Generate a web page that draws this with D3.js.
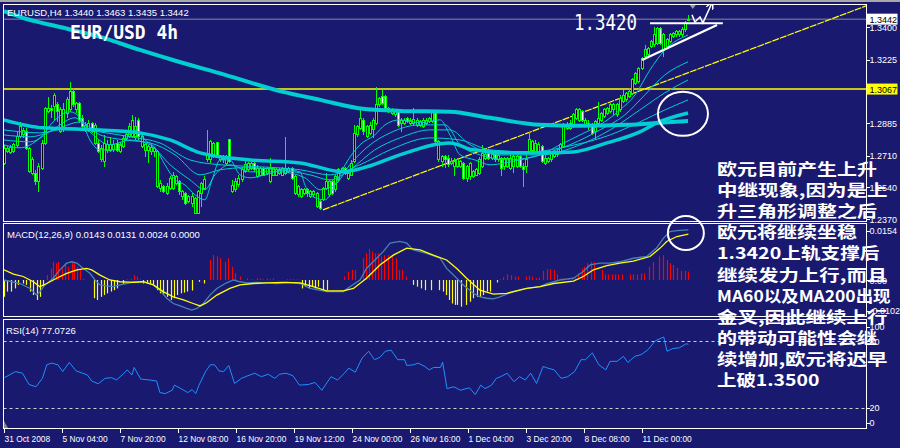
<!DOCTYPE html>
<html><head><meta charset="utf-8">
<script src="https://cdn.jsdelivr.net/npm/d3@7"></script>
<style>html,body{margin:0;padding:0;background:#191970;overflow:hidden}svg{display:block}</style>
</head><body>
<svg id="c" width="900" height="448"></svg>
<script>
// ---------- DATA ----------
// H4 candles [open, high, low, close]
const candleRows = [
[1.2669,1.2767,1.2660,1.2749],[1.2732,1.2762,1.2723,1.2749],[1.2726,1.2767,1.2719,1.2755],[1.2732,1.2780,1.2723,1.2767],
[1.2762,1.2839,1.2755,1.2812],[1.2812,1.2892,1.2803,1.2866],[1.2821,1.2857,1.2803,1.2844],[1.2839,1.2857,1.2740,1.2749],
[1.2624,1.2758,1.2615,1.2749],[1.2615,1.2705,1.2606,1.2687],[1.2615,1.2633,1.2553,1.2571],[1.2571,1.2669,1.2517,1.2651],
[1.2642,1.2794,1.2633,1.2776],[1.2776,1.2973,1.2767,1.2964],[1.2946,1.3026,1.2937,1.2964],[1.2964,1.2982,1.2910,1.2951],
[1.2973,1.3044,1.2901,1.3035],[1.2982,1.3000,1.2892,1.2946],[1.2839,1.2973,1.2830,1.2955],[1.2848,1.2991,1.2839,1.2955],
[1.2937,1.3026,1.2910,1.3009],[1.2955,1.3107,1.2946,1.3053],[1.3053,1.3071,1.2973,1.2982],[1.2955,1.3000,1.2937,1.2991],
[1.2991,1.3000,1.2883,1.2901],[1.2910,1.2928,1.2848,1.2866],[1.2848,1.2892,1.2839,1.2874],[1.2848,1.2901,1.2839,1.2883],
[1.2883,1.2892,1.2830,1.2839],[1.2776,1.2883,1.2767,1.2874],[1.2776,1.2794,1.2723,1.2732],[1.2687,1.2767,1.2678,1.2749],
[1.2678,1.2821,1.2651,1.2776],[1.2740,1.2794,1.2723,1.2767],[1.2740,1.2812,1.2732,1.2767],[1.2744,1.2794,1.2732,1.2767],
[1.2776,1.2794,1.2732,1.2740],[1.2732,1.2785,1.2723,1.2767],[1.2758,1.2821,1.2749,1.2803],[1.2803,1.2830,1.2794,1.2821],
[1.2812,1.2883,1.2803,1.2866],[1.2812,1.2928,1.2803,1.2901],[1.2812,1.2919,1.2794,1.2866],[1.2901,1.2910,1.2794,1.2812],
[1.2758,1.2821,1.2749,1.2812],[1.2740,1.2776,1.2705,1.2767],[1.2740,1.2767,1.2669,1.2758],[1.2732,1.2767,1.2714,1.2755],
[1.2732,1.2758,1.2705,1.2749],[1.2544,1.2740,1.2535,1.2732],[1.2535,1.2580,1.2517,1.2562],[1.2544,1.2553,1.2508,1.2517],
[1.2508,1.2562,1.2499,1.2544],[1.2535,1.2598,1.2526,1.2589],[1.2535,1.2624,1.2526,1.2606],[1.2562,1.2606,1.2553,1.2598],
[1.2571,1.2580,1.2499,1.2517],[1.2490,1.2526,1.2472,1.2517],[1.2508,1.2517,1.2446,1.2455],[1.2464,1.2499,1.2455,1.2490],
[1.2455,1.2508,1.2437,1.2490],[1.2401,1.2490,1.2397,1.2481],[1.2401,1.2526,1.2397,1.2517],[1.2508,1.2571,1.2437,1.2562],
[1.2535,1.2598,1.2526,1.2580],[1.2687,1.2848,1.2678,1.2723],[1.2687,1.2794,1.2669,1.2785],[1.2705,1.2785,1.2696,1.2776],
[1.2780,1.2785,1.2696,1.2705],[1.2687,1.2714,1.2678,1.2705],[1.2687,1.2714,1.2669,1.2705],[1.2669,1.2714,1.2660,1.2705],
[1.2794,1.2798,1.2669,1.2678],[1.2517,1.2580,1.2508,1.2548],[1.2526,1.2589,1.2517,1.2571],[1.2553,1.2606,1.2544,1.2589],
[1.2580,1.2651,1.2571,1.2633],[1.2624,1.2696,1.2615,1.2660],[1.2633,1.2678,1.2624,1.2669],[1.2642,1.2678,1.2633,1.2669],
[1.2669,1.2678,1.2624,1.2633],[1.2598,1.2660,1.2589,1.2642],[1.2606,1.2651,1.2598,1.2642],[1.2642,1.2651,1.2598,1.2606],
[1.2615,1.2651,1.2606,1.2642],[1.2571,1.2696,1.2562,1.2642],[1.2606,1.2651,1.2598,1.2642],[1.2606,1.2642,1.2598,1.2633],
[1.2615,1.2642,1.2606,1.2633],[1.2606,1.2651,1.2598,1.2642],[1.2615,1.2812,1.2606,1.2642],[1.2624,1.2651,1.2615,1.2642],
[1.2642,1.2651,1.2580,1.2589],[1.2508,1.2606,1.2499,1.2598],[1.2499,1.2553,1.2490,1.2544],[1.2490,1.2535,1.2481,1.2526],
[1.2508,1.2535,1.2499,1.2526],[1.2526,1.2535,1.2490,1.2508],[1.2490,1.2526,1.2481,1.2517],[1.2499,1.2526,1.2490,1.2517],
[1.2437,1.2517,1.2428,1.2508],[1.2464,1.2472,1.2419,1.2428],[1.2472,1.2544,1.2464,1.2535],[1.2535,1.2615,1.2526,1.2571],
[1.2499,1.2580,1.2490,1.2571],[1.2571,1.2580,1.2499,1.2508],[1.2526,1.2606,1.2517,1.2598],[1.2580,1.2642,1.2571,1.2633],
[1.2624,1.2651,1.2615,1.2642],[1.2642,1.2651,1.2606,1.2615],[1.2589,1.2624,1.2580,1.2615],[1.2606,1.2687,1.2598,1.2669],
[1.2678,1.2874,1.2669,1.2830],[1.2821,1.2874,1.2812,1.2866],[1.2857,1.2964,1.2848,1.2910],[1.2901,1.2910,1.2821,1.2839],
[1.2812,1.2874,1.2803,1.2866],[1.2830,1.2892,1.2821,1.2874],[1.2848,1.2910,1.2803,1.2901],[1.2883,1.3080,1.2874,1.2982],
[1.2982,1.3026,1.2973,1.3017],[1.3026,1.3062,1.2982,1.2991],[1.3026,1.3035,1.2955,1.2964],[1.2946,1.2973,1.2937,1.2964],
[1.2937,1.2964,1.2928,1.2955],[1.2928,1.2955,1.2919,1.2946],[1.2946,1.2955,1.2866,1.2874],[1.2883,1.2910,1.2839,1.2901],
[1.2883,1.2910,1.2874,1.2901],[1.2910,1.2919,1.2883,1.2892],[1.2883,1.2910,1.2874,1.2901],[1.2880,1.2964,1.2871,1.2905],
[1.2874,1.2910,1.2866,1.2901],[1.2874,1.2901,1.2866,1.2892],[1.2866,1.2910,1.2857,1.2901],[1.2883,1.2910,1.2874,1.2901],
[1.2892,1.2919,1.2883,1.2910],[1.2892,1.2955,1.2883,1.2946],[1.2937,1.2955,1.2776,1.2785],[1.2687,1.2794,1.2678,1.2785],
[1.2678,1.2714,1.2651,1.2705],[1.2705,1.2714,1.2642,1.2687],[1.2696,1.2714,1.2651,1.2660],[1.2669,1.2696,1.2660,1.2678],
[1.2651,1.2696,1.2598,1.2678],[1.2651,1.2696,1.2642,1.2687],[1.2651,1.2687,1.2642,1.2678],[1.2669,1.2678,1.2580,1.2589],
[1.2589,1.2660,1.2571,1.2651],[1.2598,1.2678,1.2580,1.2669],[1.2598,1.2633,1.2589,1.2624],[1.2606,1.2642,1.2598,1.2633],
[1.2615,1.2705,1.2606,1.2687],[1.2651,1.2767,1.2642,1.2723],[1.2696,1.2723,1.2687,1.2714],[1.2723,1.2732,1.2687,1.2696],
[1.2696,1.2723,1.2687,1.2714],[1.2714,1.2723,1.2678,1.2687],[1.2687,1.2723,1.2678,1.2708],[1.2696,1.2705,1.2598,1.2642],
[1.2651,1.2705,1.2633,1.2696],[1.2651,1.2705,1.2642,1.2696],[1.2642,1.2714,1.2633,1.2696],[1.2651,1.2714,1.2615,1.2705],
[1.2651,1.2714,1.2642,1.2705],[1.2705,1.2714,1.2642,1.2651],[1.2651,1.2669,1.2544,1.2633],[1.2651,1.2714,1.2615,1.2687],
[1.2732,1.2839,1.2723,1.2794],[1.2740,1.2794,1.2732,1.2785],[1.2732,1.2794,1.2723,1.2776],[1.2732,1.2785,1.2723,1.2767],
[1.2758,1.2767,1.2669,1.2678],[1.2669,1.2714,1.2660,1.2696],[1.2678,1.2705,1.2669,1.2696],[1.2687,1.2732,1.2678,1.2723],
[1.2705,1.2740,1.2696,1.2732],[1.2714,1.2740,1.2705,1.2732],[1.2732,1.2776,1.2723,1.2767],[1.2758,1.2883,1.2749,1.2874],
[1.2857,1.2892,1.2848,1.2874],[1.2857,1.2901,1.2848,1.2883],[1.2866,1.2937,1.2857,1.2928],[1.2910,1.2964,1.2901,1.2955],
[1.2901,1.2964,1.2892,1.2955],[1.2946,1.2955,1.2892,1.2901],[1.2874,1.2910,1.2866,1.2901],[1.2866,1.2901,1.2848,1.2883],
[1.2866,1.2883,1.2821,1.2830],[1.2839,1.2901,1.2794,1.2892],[1.2883,1.3000,1.2874,1.2910],[1.2901,1.2946,1.2892,1.2937],
[1.2919,1.2964,1.2910,1.2955],[1.2937,1.2973,1.2928,1.2964],[1.2946,1.2991,1.2937,1.2982],[1.2955,1.2991,1.2928,1.2982],
[1.2928,1.2991,1.2919,1.2982],[1.2955,1.3035,1.2946,1.3017],[1.3000,1.3062,1.2991,1.3035],[1.3009,1.3053,1.3000,1.3044],
[1.3026,1.3071,1.3017,1.3053],[1.3044,1.3125,1.3035,1.3116],[1.3098,1.3160,1.3089,1.3152],[1.3107,1.3187,1.3098,1.3178],
[1.3179,1.3241,1.3170,1.3232],[1.3241,1.3304,1.3232,1.3277],[1.3250,1.3295,1.3241,1.3286],[1.3295,1.3331,1.3286,1.3322],
[1.3304,1.3402,1.3295,1.3358],[1.3313,1.3402,1.3304,1.3393],[1.3393,1.3402,1.3304,1.3313],[1.3277,1.3366,1.3241,1.3358],
[1.3295,1.3340,1.3286,1.3331],[1.3322,1.3366,1.3313,1.3358],[1.3349,1.3375,1.3340,1.3366],[1.3358,1.3384,1.3349,1.3375],
[1.3358,1.3384,1.3349,1.3375],[1.3358,1.3402,1.3349,1.3384],[1.3384,1.3430,1.3375,1.3420],[1.3440,1.3463,1.3435,1.3442]
];
const lastBar = 188.8;          // time position (in H4 bars) of the last candle

// moving averages  [bar, price]
const ma200 = [[0,1.3485],[5.2,1.3449],[15.4,1.3400],[26.5,1.3347],[37.5,1.3277],[46.6,1.3223],[61.0,1.3143],[77.0,1.3052],[87.2,1.3009],[97.4,1.2966],[109.2,1.2950],[123.0,1.2945],[134.1,1.2913],[147.9,1.2875],[158.9,1.2870],[171.9,1.2875],[181.0,1.2886],[188.7,1.2896]];
const ma60 = [[0,1.2902],[10.8,1.2859],[26.5,1.2848],[37.5,1.2832],[45.8,1.2794],[54.1,1.2725],[67.9,1.2687],[81.7,1.2671],[93.5,1.2623],[100.1,1.2650],[109.2,1.2714],[123.0,1.2778],[129.4,1.2741],[139.6,1.2725],[147.9,1.2725],[157.0,1.2730],[166.3,1.2778],[175.4,1.2837],[180.1,1.2886],[188.7,1.2939]];
const maFast1 = [[0,1.2768],[4.4,1.2752],[9.9,1.2805],[14.1,1.2902],[18.2,1.2945],[21.0,1.2913],[23.7,1.2794],[26.5,1.2741],[30.6,1.2741],[33.4,1.2794],[36.1,1.2848],[38.9,1.2794],[41.7,1.2752],[44.4,1.2661],[47.2,1.2580],[49.9,1.2553],[52.7,1.2500],[55.4,1.2473],[57.4,1.2580],[59.6,1.2687],[62.3,1.2687],[65.1,1.2607],[67.9,1.2591],[72.0,1.2607],[77.5,1.2634],[81.7,1.2623],[83.0,1.2553],[85.8,1.2484],[88.6,1.2473],[91.3,1.2553],[94.1,1.2661],[98.2,1.2768],[102.3,1.2821],[105.1,1.2875],[109.2,1.2902],[114.8,1.2886],[120.3,1.2902],[123.0,1.2821],[125.8,1.2714],[129.9,1.2687],[134.1,1.2661],[138.2,1.2671],[142.3,1.2687],[147.9,1.2714],[153.4,1.2768],[158.9,1.2821],[164.4,1.2875],[169.9,1.2955],[174.1,1.3036],[178.2,1.3170],[182.3,1.3277],[188.7,1.3357]];
const maFast2 = [[0,1.2794],[7.2,1.2784],[14.1,1.2859],[19.6,1.2913],[23.7,1.2837],[29.2,1.2768],[34.8,1.2794],[40.3,1.2768],[45.8,1.2661],[51.3,1.2580],[55.4,1.2527],[58.2,1.2607],[62.3,1.2661],[67.9,1.2623],[76.1,1.2623],[83.0,1.2591],[87.2,1.2527],[91.3,1.2553],[95.4,1.2661],[101.0,1.2768],[106.5,1.2832],[114.8,1.2875],[121.7,1.2875],[125.8,1.2768],[131.3,1.2714],[139.6,1.2687],[147.9,1.2714],[156.1,1.2768],[164.4,1.2848],[171.3,1.2929],[176.8,1.3036],[182.3,1.3143],[188.7,1.3213]];
const maMid1 = [[0,1.2821],[7.2,1.2811],[15.4,1.2859],[21.0,1.2891],[26.5,1.2821],[33.4,1.2794],[40.3,1.2778],[47.2,1.2714],[54.1,1.2607],[59.6,1.2634],[66.5,1.2645],[76.1,1.2634],[84.4,1.2607],[89.9,1.2580],[95.4,1.2634],[102.3,1.2741],[109.2,1.2805],[117.5,1.2848],[123.0,1.2848],[128.6,1.2768],[136.8,1.2714],[147.9,1.2714],[158.9,1.2768],[167.2,1.2848],[175.4,1.2955],[182.3,1.3047],[188.7,1.3116]];
const maMid2 = [[0,1.2848],[9.9,1.2832],[18.2,1.2859],[26.5,1.2837],[34.8,1.2811],[43.0,1.2778],[51.3,1.2687],[59.6,1.2661],[70.6,1.2650],[81.7,1.2634],[89.9,1.2607],[98.2,1.2661],[106.5,1.2741],[117.5,1.2805],[125.8,1.2794],[134.1,1.2741],[145.1,1.2730],[156.1,1.2762],[167.2,1.2821],[175.4,1.2891],[182.3,1.2955],[188.7,1.3009]];

// MACD(12,26,9): histogram, main line, signal line  [bar, value]
const macdHist = [[0,-0.0048],[0.9,-0.0033],[1.8,-0.0033],[3.0,-0.0024],[3.9,-0.0014],[5.2,-0.0010],[6.1,-0.0014],[7.2,-0.0033],[8.1,-0.0043],[9.0,-0.0057],[9.9,-0.0048],[10.8,-0.0019],
[11.9,0.0014],[12.9,0.0033],[13.6,0.0052],[14.3,0.0048],[15.0,0.0052],[15.9,0.0033],[16.8,0.0048],[17.7,0.0038],[18.7,0.0052],[19.3,0.0048],[20.1,0.0038],[21.0,0.0029],[21.9,0.0003],
[24.8,-0.0052],[25.7,-0.0057],[26.7,-0.0048],[27.6,-0.0043],[28.5,-0.0038],[29.4,-0.0033],[30.3,-0.0029],[31.3,-0.0024],[32.9,-0.0012],
[34.0,0.0002],[34.9,0.0003],[35.9,0.0014],[36.6,0.0010],[37.5,0.0002],
[38.4,-0.0010],[39.4,-0.0010],[40.3,-0.0010],[41.2,-0.0014],[42.1,-0.0029],[43.0,-0.0038],[43.9,-0.0043],[44.9,-0.0048],[46.0,-0.0057],[46.9,-0.0052],[47.8,-0.0043],[48.7,-0.0038],[49.7,-0.0036],[50.6,-0.0033],[51.9,-0.0030],[53.8,-0.0005],[55.2,-0.0010],
[56.8,0.0057],[57.7,0.0071],[58.7,0.0067],[59.6,0.0062],[61.0,0.0052],[61.9,0.0062],[62.8,0.0038],[63.7,0.0019],[65.1,0.0010],[67.0,0.0005],[68.1,0.0002],[69.7,0.0005],[70.6,0.0004],[71.5,0.0002],[72.5,0.0004],[73.4,0.0002],[74.3,0.0004],[78.0,0.0002],[78.9,0.0002],[79.8,0.0002],[80.7,0.0002],
[82.1,-0.0024],[83.0,-0.0019],[84.0,-0.0024],[84.9,-0.0019],[85.8,-0.0024],[86.7,-0.0019],[87.9,-0.0029],[89.0,-0.0029],
[93.9,0.0010],[95.0,0.0024],[95.9,0.0029],[96.8,0.0029],[98.9,0.0062],[99.9,0.0076],[100.7,0.0089],[101.4,0.0081],[102.3,0.0076],[103.1,0.0076],[103.9,0.0067],[104.8,0.0071],[106.0,0.0071],[106.9,0.0067],[108.1,0.0062],[109.0,0.0029],[109.9,0.0029],[110.9,0.0010],
[112.9,-0.0014],[113.9,-0.0019],[115.0,-0.0024],[116.1,-0.0029],[117.7,-0.0029],[120.1,-0.0029],[121.0,-0.0033],[121.8,-0.0043],[122.8,-0.0057],[123.5,-0.0067],[124.4,-0.0071],[125.0,-0.0071],[126.0,-0.0076],[127.4,-0.0071],[128.6,-0.0062],[129.5,-0.0052],[130.4,-0.0048],[131.3,-0.0048],[132.2,-0.0043],[133.2,-0.0033],[134.1,-0.0033],[135.9,-0.0007],
[136.8,0.0002],[137.7,0.0008],[138.8,0.0016],[139.9,0.0014],[141.0,0.0010],[141.9,0.0010],[143.9,0.0010],[144.8,0.0012],[145.7,0.0010],[146.7,0.0005],[147.7,0.0007],[148.8,0.0026],[149.9,0.0031],[150.6,0.0031],[151.7,0.0029],[152.6,0.0016],[153.7,0.0005],[154.6,0.0004],[155.7,0.0005],[156.6,0.0007],[157.5,0.0005],
[158.4,0.0019],[159.4,0.0033],[160.1,0.0038],[160.9,0.0048],[161.9,0.0052],[162.8,0.0051],[164.9,0.0029],[165.8,0.0016],[166.7,0.0016],[167.6,0.0016],[168.6,0.0016],[169.5,0.0016],[170.4,0.0016],[172.7,0.0016],[173.6,0.0016],[174.5,0.0016],[175.6,0.0019],[176.6,0.0019],
[177.8,0.0038],[178.9,0.0051],[180.8,0.0067],[181.9,0.0071],[182.8,0.0057],[183.7,0.0048],[184.6,0.0043],[185.6,0.0035],[186.8,0.0026],[187.9,0.0026],[188.8,0.0024]];
const macdMain = [[0,0],[4.4,-0.0010],[7.2,-0.0024],[9.0,-0.0043],[9.9,-0.0033],[11.3,-0.0014],[13.6,0.0005],[15.4,0.0029],[17.3,0.0048],[18.7,0.0052],[20.1,0.0048],[21.9,0.0033],[23.7,0.0019],[25.1,0],[26.5,-0.0014],[28.3,-0.0017],[30.2,-0.0019],[32.0,-0.0014],[33.8,-0.0010],[35.7,-0.0005],[38.4,-0.0005],[41.2,-0.0014],[43.0,-0.0029],[44.9,-0.0052],[46.7,-0.0067],[48.6,-0.0074],[50.4,-0.0081],[51.8,-0.0086],[53.2,-0.0081],[55.0,-0.0067],[56.8,-0.0043],[58.7,-0.0024],[61.4,-0.0008],[63.3,0],[65.1,-0.0005],[67.0,-0.0008],[69.7,-0.0007],[72.5,-0.0008],[75.2,-0.0010],[78.0,-0.0007],[81.7,-0.0010],[84.4,-0.0024],[89.0,-0.0033],[93.6,-0.0033],[95.4,-0.0019],[98.2,0],[100.0,0.0033],[102.8,0.0062],[104.6,0.0081],[106.5,0.0105],[109.2,0.0110],[111.1,0.0105],[112.9,0.0086],[116.6,0.0076],[120.3,0.0062],[122.1,0.0033],[124.0,0.0014],[126.7,-0.0014],[129.5,-0.0038],[131.3,-0.0048],[133.2,-0.0052],[135.0,-0.0054],[136.8,-0.0048],[140.5,-0.0033],[144.2,-0.0024],[147.9,-0.0019],[149.7,-0.0010],[153.4,0],[157.1,0.0005],[159.8,0.0024],[161.7,0.0043],[164.4,0.0048],[167.2,0.0048],[169.9,0.0052],[173.6,0.0062],[177.3,0.0067],[180.0,0.0091],[181.9,0.0119],[183.7,0.0138],[185.6,0.0141],[188.8,0.0143]];
const macdSignal = [[0,0.0029],[2.6,0.0017],[5.3,0.0010],[8.1,-0.0005],[9.9,-0.0019],[11.8,-0.0010],[14.5,0.0005],[17.3,0.0019],[20.1,0.0029],[22.8,0.0033],[24.2,0.0029],[26.5,0.0014],[29.2,0],[32.0,-0.0005],[35.7,-0.0007],[38.4,-0.0005],[41.2,-0.0014],[43.9,-0.0033],[46.7,-0.0048],[49.5,-0.0057],[52.2,-0.0067],[54.1,-0.0074],[55.9,-0.0065],[58.7,-0.0043],[62.3,-0.0024],[65.1,-0.0014],[68.8,-0.0010],[72.5,-0.0008],[77.1,-0.0007],[81.7,-0.0008],[85.3,-0.0019],[89.0,-0.0031],[93.6,-0.0031],[96.4,-0.0024],[100.0,0.0005],[103.7,0.0043],[107.4,0.0071],[111.1,0.0091],[114.8,0.0086],[118.4,0.0071],[122.1,0.0057],[124.9,0.0033],[127.6,0.0005],[131.3,-0.0029],[135.0,-0.0040],[138.7,-0.0038],[144.2,-0.0024],[147.9,-0.0019],[151.6,-0.0010],[157.1,-0.0003],[159.8,0.0010],[162.6,0.0029],[166.3,0.0041],[169.9,0.0048],[173.6,0.0054],[178.2,0.0067],[181.0,0.0091],[182.8,0.0110],[185.6,0.0124],[188.8,0.0131]];

// RSI(14)  [bar, value]
const rsi14 = [[0.1,47.0],[3.2,52.5],[5.1,51.0],[6.9,40.9],[8.8,38.8],[10.6,46.4],[11.8,58.6],[13.1,60.1],[14.9,58.6],[16.2,52.5],[18.0,60.7],[19.9,53.1],[21.7,51.0],[23.0,49.4],[24.2,44.0],[26.0,41.5],[27.9,46.4],[29.7,47.0],[31.0,44.9],[32.8,50.1],[34.0,54.0],[35.3,49.4],[35.9,56.2],[37.7,45.8],[40.2,44.9],[42.1,44.0],[43.0,33.6],[44.5,32.7],[46.4,35.7],[47.0,40.3],[48.8,37.2],[50.7,33.6],[51.9,36.3],[52.9,32.7],[53.8,40.3],[55.6,52.5],[56.9,58.6],[58.1,58.6],[59.3,53.1],[60.6,52.5],[62.0,58.0],[63.6,41.8],[65.5,46.4],[67.3,48.8],[69.2,51.0],[71.0,47.9],[72.9,50.1],[74.7,46.4],[76.0,50.1],[77.8,51.0],[79.7,48.8],[81.5,40.3],[84.0,40.9],[85.8,42.7],[87.7,35.7],[90.2,47.9],[92.0,44.9],[93.9,51.0],[95.1,55.6],[96.9,51.9],[98.8,64.7],[100.6,70.8],[102.2,63.2],[103.7,65.3],[105.2,70.8],[106.8,71.7],[108.6,63.2],[110.5,63.2],[111.1,58.0],[113.0,58.6],[114.2,60.1],[116.1,57.1],[117.3,54.0],[118.5,56.2],[120.4,56.2],[121.0,61.0],[122.2,37.2],[124.1,38.8],[125.9,35.7],[128.4,37.9],[130.0,31.8],[131.5,40.3],[132.7,37.2],[134.5,40.3],[135.8,46.4],[137.0,47.9],[138.8,51.0],[140.7,43.4],[142.2,47.9],[143.8,44.9],[145.3,51.0],[146.9,41.8],[148.7,57.1],[150.0,55.6],[151.8,54.0],[153.7,46.4],[155.5,47.9],[157.4,52.5],[159.2,63.2],[160.4,63.2],[162.3,69.3],[164.1,58.6],[166.0,54.0],[167.2,61.7],[169.1,61.7],[170.9,66.2],[172.1,60.7],[174.0,66.2],[175.8,67.8],[177.7,72.3],[179.6,80.0],[182.0,83.6],[182.9,70.8],[184.5,73.2],[186.3,73.9],[188.2,77.5],[188.8,77.07]];

// lines and annotations drawn on the price chart  [bar, price]
const hLevel = 1.3067;
const lastPrice = 1.3442;
const trendLine = [[88.0,1.2419],[237.8,1.3513]];
const resistance1342 = [[178.2,1.3420],[198.3,1.3420]];
const wedgeLine = [[176.0,1.3223],[196.7,1.3411]];
const arrowPath = [[189.8,1.3465],[190.6,1.3427],[192.0,1.3454],[192.8,1.3422],[195.3,1.3529]];
const crossCircle = [187.3,1.2934];
const macdCircle = [188.1,0.0134];

// axis labels
const priceTicks = [1.3400,1.3225,1.2885,1.2710,1.2540,1.2370];
const macdTicks = [[0.0154,"0.0154"],[0,"0.00"],[-0.0102,"-0.0102"]];
const rsiTicks = [[100,"100"],[80,"80"],[20,"20"],[0,"0"]];
const rsiLevels = [80,20];
const timeLabels = ["31 Oct 2008","5 Nov 04:00","7 Nov 20:00","12 Nov 08:00","16 Nov 20:00","19 Nov 12:00","24 Nov 00:00","26 Nov 16:00","1 Dec 04:00","3 Dec 20:00","8 Dec 08:00","11 Dec 00:00"];
const barsPerLabel = 16;

const headerMain = "EURUSD,H4  1.3440 1.3463 1.3435 1.3442";
const headerMacd = "MACD(12,26,9) 0.0143 0.0131 0.0024 0.0000";
const headerRsi = "RSI(14) 77.0726";
const titleText = "EUR/USD 4h";
const levelText = "1.3420";
const commentLines = ["欧元目前产生上升","中继现象,因为是上","升三角形调整之后","欧元将继续坐稳","1.3420上轨支撑后","继续发力上行,而且","MA60以及MA200出现","金叉,因此继续上行","的带动可能性会继","续增加,欧元将迟早","上破1.3500"];

// ---------- DRAW ----------
const svg = d3.select('#c');
const BG = '#191970', CY = '#00CED1', LIME = '#00FF00', FONT = "'Liberation Sans', Arial, sans-serif";
const LEFT = 3.5, RIGHT = 866.5;
const P = {main:[4.5,221.5], macd:[223.5,316.5], rsi:[319.5,428.5]};

svg.append('rect').attr('width',900).attr('height',448).attr('fill',BG);
svg.append('rect').attr('width',900).attr('height',2).attr('fill','#a8a8a8');

const xBar = d3.scaleLinear().domain([0,189]).range([4, 4+189*3.625]);
const xC = d3.scaleLinear().domain([0,candleRows.length-1]).range([xBar(0), xBar(lastBar)]);
const yMain = d3.scaleLinear().domain([1.2370,1.3400]).range([219,27]);
const yMacd = d3.scaleLinear().domain([0,0.0154]).range([280,226]);
const yRsi = d3.scaleLinear().domain([20,80]).range([407.7,341]);

const defs = svg.append('defs');
Object.entries(P).forEach(([k,[t,b]])=>{
  defs.append('clipPath').attr('id','clip-'+k).append('rect')
    .attr('x',LEFT+0.5).attr('y',t+0.5).attr('width',RIGHT-LEFT-1).attr('height',b-t-1);
});
defs.append('marker').attr('id','ah').attr('viewBox','0 0 10 10').attr('refX',8).attr('refY',5)
  .attr('markerWidth',5).attr('markerHeight',5).attr('orient','auto')
  .append('path').attr('d','M0,0 L10,5 L0,10').attr('fill','none').attr('stroke','#fff').attr('stroke-width',2);

// ---- main panel
const gm = svg.append('g').attr('clip-path','url(#clip-main)');
const lineP = d3.line().x(d=>xBar(d[0])).y(d=>yMain(d[1]));

gm.append('line').attr('x1',LEFT).attr('x2',RIGHT).attr('y1',yMain(lastPrice)).attr('y2',yMain(lastPrice))
  .attr('stroke','#8c8c9c').attr('stroke-width',1);
gm.append('line').attr('x1',LEFT).attr('x2',RIGHT).attr('y1',yMain(hLevel)).attr('y2',yMain(hLevel))
  .attr('stroke','#ffff00').attr('stroke-width',1.5);
gm.append('path').attr('d',lineP(trendLine)).attr('fill','none').attr('stroke','#ffff00')
  .attr('stroke-width',1.2).attr('stroke-dasharray','7,1');

// candles
const cg = gm.append('g').attr('shape-rendering','crispEdges');
cg.selectAll('line.wick').data(candleRows).join('line').attr('class','wick')
  .attr('x1',(d,i)=>Math.round(xC(i))+0.5).attr('x2',(d,i)=>Math.round(xC(i))+0.5)
  .attr('y1',d=>yMain(d[1])).attr('y2',d=>yMain(d[2])).attr('stroke',LIME).attr('stroke-width',1);
cg.selectAll('rect.body').data(candleRows).join('rect').attr('class','body')
  .attr('x',(d,i)=>Math.round(xC(i))-0.5).attr('width',2)
  .attr('y',d=>Math.min(yMain(d[0]),yMain(d[3])))
  .attr('height',d=>Math.max(1,Math.abs(yMain(d[0])-yMain(d[3]))))
  .attr('fill',d=>d[3]>=d[0]?'#000000':'#ffffff').attr('stroke',LIME).attr('stroke-width',1);

// MAs
const lineS = d3.line().x(d=>xBar(d[0])).y(d=>yMain(d[1])).curve(d3.curveMonotoneX);
[maMid2,maMid1,maFast2,maFast1].forEach(d=>{
  gm.append('path').attr('d',lineS(d)).attr('fill','none').attr('stroke',CY).attr('stroke-width',1);
});
gm.append('path').attr('d',lineS(ma60)).attr('fill','none').attr('stroke',CY).attr('stroke-width',3.5);
gm.append('path').attr('d',lineS(ma200)).attr('fill','none').attr('stroke',CY).attr('stroke-width',4);

// annotations
gm.append('path').attr('d',lineP(resistance1342)).attr('stroke','#fff').attr('stroke-width',2).attr('fill','none');
gm.append('path').attr('d',lineP(wedgeLine)).attr('stroke','#fff').attr('stroke-width',2.2).attr('fill','none');
gm.append('path').attr('d',lineP(arrowPath)).attr('stroke','#fff').attr('stroke-width',1.5).attr('fill','none').attr('marker-end','url(#ah)');
gm.append('ellipse').attr('cx',xBar(crossCircle[0])).attr('cy',yMain(crossCircle[1])).attr('rx',25).attr('ry',22)
  .attr('fill','none').attr('stroke','#fff').attr('stroke-width',2);
// shift marker
svg.append('path').attr('d',`M${xBar(190)-3},5 L${xBar(190)+3},5 L${xBar(190)},9 Z`).attr('fill','#9a9a9a');

// ---- MACD
const gd = svg.append('g').attr('clip-path','url(#clip-macd)');
gd.selectAll('line.h').data(macdHist).join('line')
  .attr('x1',d=>Math.round(xBar(d[0]))+0.5).attr('x2',d=>Math.round(xBar(d[0]))+0.5)
  .attr('y1',yMacd(0)).attr('y2',d=>yMacd(d[1]))
  .attr('stroke',d=>d[1]>=0?'#ff0000':'#ffff00').attr('stroke-width',1.2);
const lineM = d3.line().x(d=>xBar(d[0])).y(d=>yMacd(d[1]));
gd.append('path').attr('d',lineM(macdMain)).attr('fill','none').attr('stroke','#4682B4').attr('stroke-width',1.3);
gd.append('path').attr('d',lineM(macdSignal)).attr('fill','none').attr('stroke','#ffff00').attr('stroke-width',1.3);

// ---- RSI
const gr = svg.append('g').attr('clip-path','url(#clip-rsi)');
rsiLevels.forEach(v=>gr.append('line').attr('x1',LEFT).attr('x2',RIGHT).attr('y1',Math.round(yRsi(v))+0.5).attr('y2',Math.round(yRsi(v))+0.5)
  .attr('stroke','#d0d0d0').attr('stroke-dasharray','3,3'));
gr.append('path').attr('d',d3.line().x(d=>xBar(d[0])).y(d=>yRsi(d[1]))(rsi14)).attr('fill','none').attr('stroke','#1E90FF').attr('stroke-width',1);
svg.append('path').attr('d','M4,421 L4,428 L8,428 Z').attr('fill','#8a8a8a');

// MACD circle (drawn over panel border)
svg.append('ellipse').attr('cx',xBar(macdCircle[0])).attr('cy',yMacd(macdCircle[1])).attr('rx',18).attr('ry',17)
  .attr('fill','none').attr('stroke','#fff').attr('stroke-width',2);

// ---- frames
const fr = svg.append('g').attr('fill','none').attr('stroke','#fff').attr('stroke-width',1).attr('shape-rendering','crispEdges');
Object.values(P).forEach(([t,b])=>fr.append('rect').attr('x',LEFT).attr('y',t).attr('width',RIGHT-LEFT).attr('height',b-t));

// ---- axis labels
const ax = svg.append('g').attr('font-family',FONT).attr('font-size',9).attr('fill','#fff');
function tick(y){ svg.append('line').attr('x1',RIGHT).attr('x2',RIGHT+3).attr('y1',Math.round(y)+0.5).attr('y2',Math.round(y)+0.5).attr('stroke','#fff').attr('shape-rendering','crispEdges'); }
priceTicks.forEach(v=>{ tick(yMain(v)); ax.append('text').attr('x',RIGHT+3).attr('y',yMain(v)+3.5).text(v.toFixed(4)); });
// price boxes
[[lastPrice,'#ffffff'],[hLevel,'#ffff00']].forEach(([v,c])=>{
  const y=yMain(v);
  svg.append('rect').attr('x',RIGHT).attr('y',y-5.5).attr('width',31).attr('height',11).attr('fill',c);
  svg.append('text').attr('x',RIGHT+3).attr('y',y+3.5).attr('font-family',FONT).attr('font-size',9).attr('fill','#000').text(v.toFixed(4));
});
const clampY=(y,[t,b])=>Math.max(t+7,Math.min(b-6,y));
macdTicks.forEach(([v,s])=>{ const y=clampY(yMacd(v),P.macd); tick(y); ax.append('text').attr('x',RIGHT+3).attr('y',y+3.5).text(s); });
rsiTicks.forEach(([v,s])=>{ const y=clampY(yRsi(v),P.rsi); tick(y); ax.append('text').attr('x',RIGHT+3).attr('y',y+3.5).text(s); });

// time axis
const tx = svg.append('g').attr('font-family',FONT).attr('font-size',8.4).attr('fill','#fff');
timeLabels.forEach((s,i)=>{
  const x=Math.round(xBar(i*barsPerLabel))+0.5;
  svg.append('line').attr('x1',x).attr('x2',x).attr('y1',428.5).attr('y2',433).attr('stroke','#fff').attr('shape-rendering','crispEdges');
  tx.append('text').attr('x',x).attr('y',442).text(s);
});

// headers
const hd = svg.append('g').attr('font-family',FONT).attr('font-size',9.5).attr('fill','#fff').style('white-space','pre');
hd.append('text').attr('x',7).attr('y',16).text(headerMain);
hd.append('text').attr('x',7).attr('y',238).text(headerMacd);
hd.append('text').attr('x',6).attr('y',334).text(headerRsi);

// annotation texts
svg.append('text').attr('x',70).attr('y',39).attr('font-family',"'DejaVu Sans Mono',monospace").attr('font-weight','bold')
  .attr('font-size',19).attr('fill','#fff').attr('textLength',108).attr('lengthAdjust','spacingAndGlyphs').text(titleText);
svg.append('text').attr('x',574).attr('y',30).attr('font-family',"'DejaVu Sans Mono',monospace")
  .attr('font-size',21).attr('fill','#fff').attr('textLength',63).attr('lengthAdjust','spacingAndGlyphs').text(levelText);

const ct = svg.append('g').attr('font-family',"'Noto Sans CJK SC',sans-serif").attr('font-weight','bold').attr('fill','#fff');
commentLines.forEach((s,i)=>{
  const w = Array.from(s).reduce((a,ch)=>a+(ch.charCodeAt(0)>255?20:10.4),0);
  ct.append('text').attr('transform',`translate(717,${175+i*21.1}) scale(1,0.85)`).attr('font-size',19)
    .attr('textLength',w).attr('lengthAdjust','spacingAndGlyphs').text(s);
});
</script>
</body></html>
